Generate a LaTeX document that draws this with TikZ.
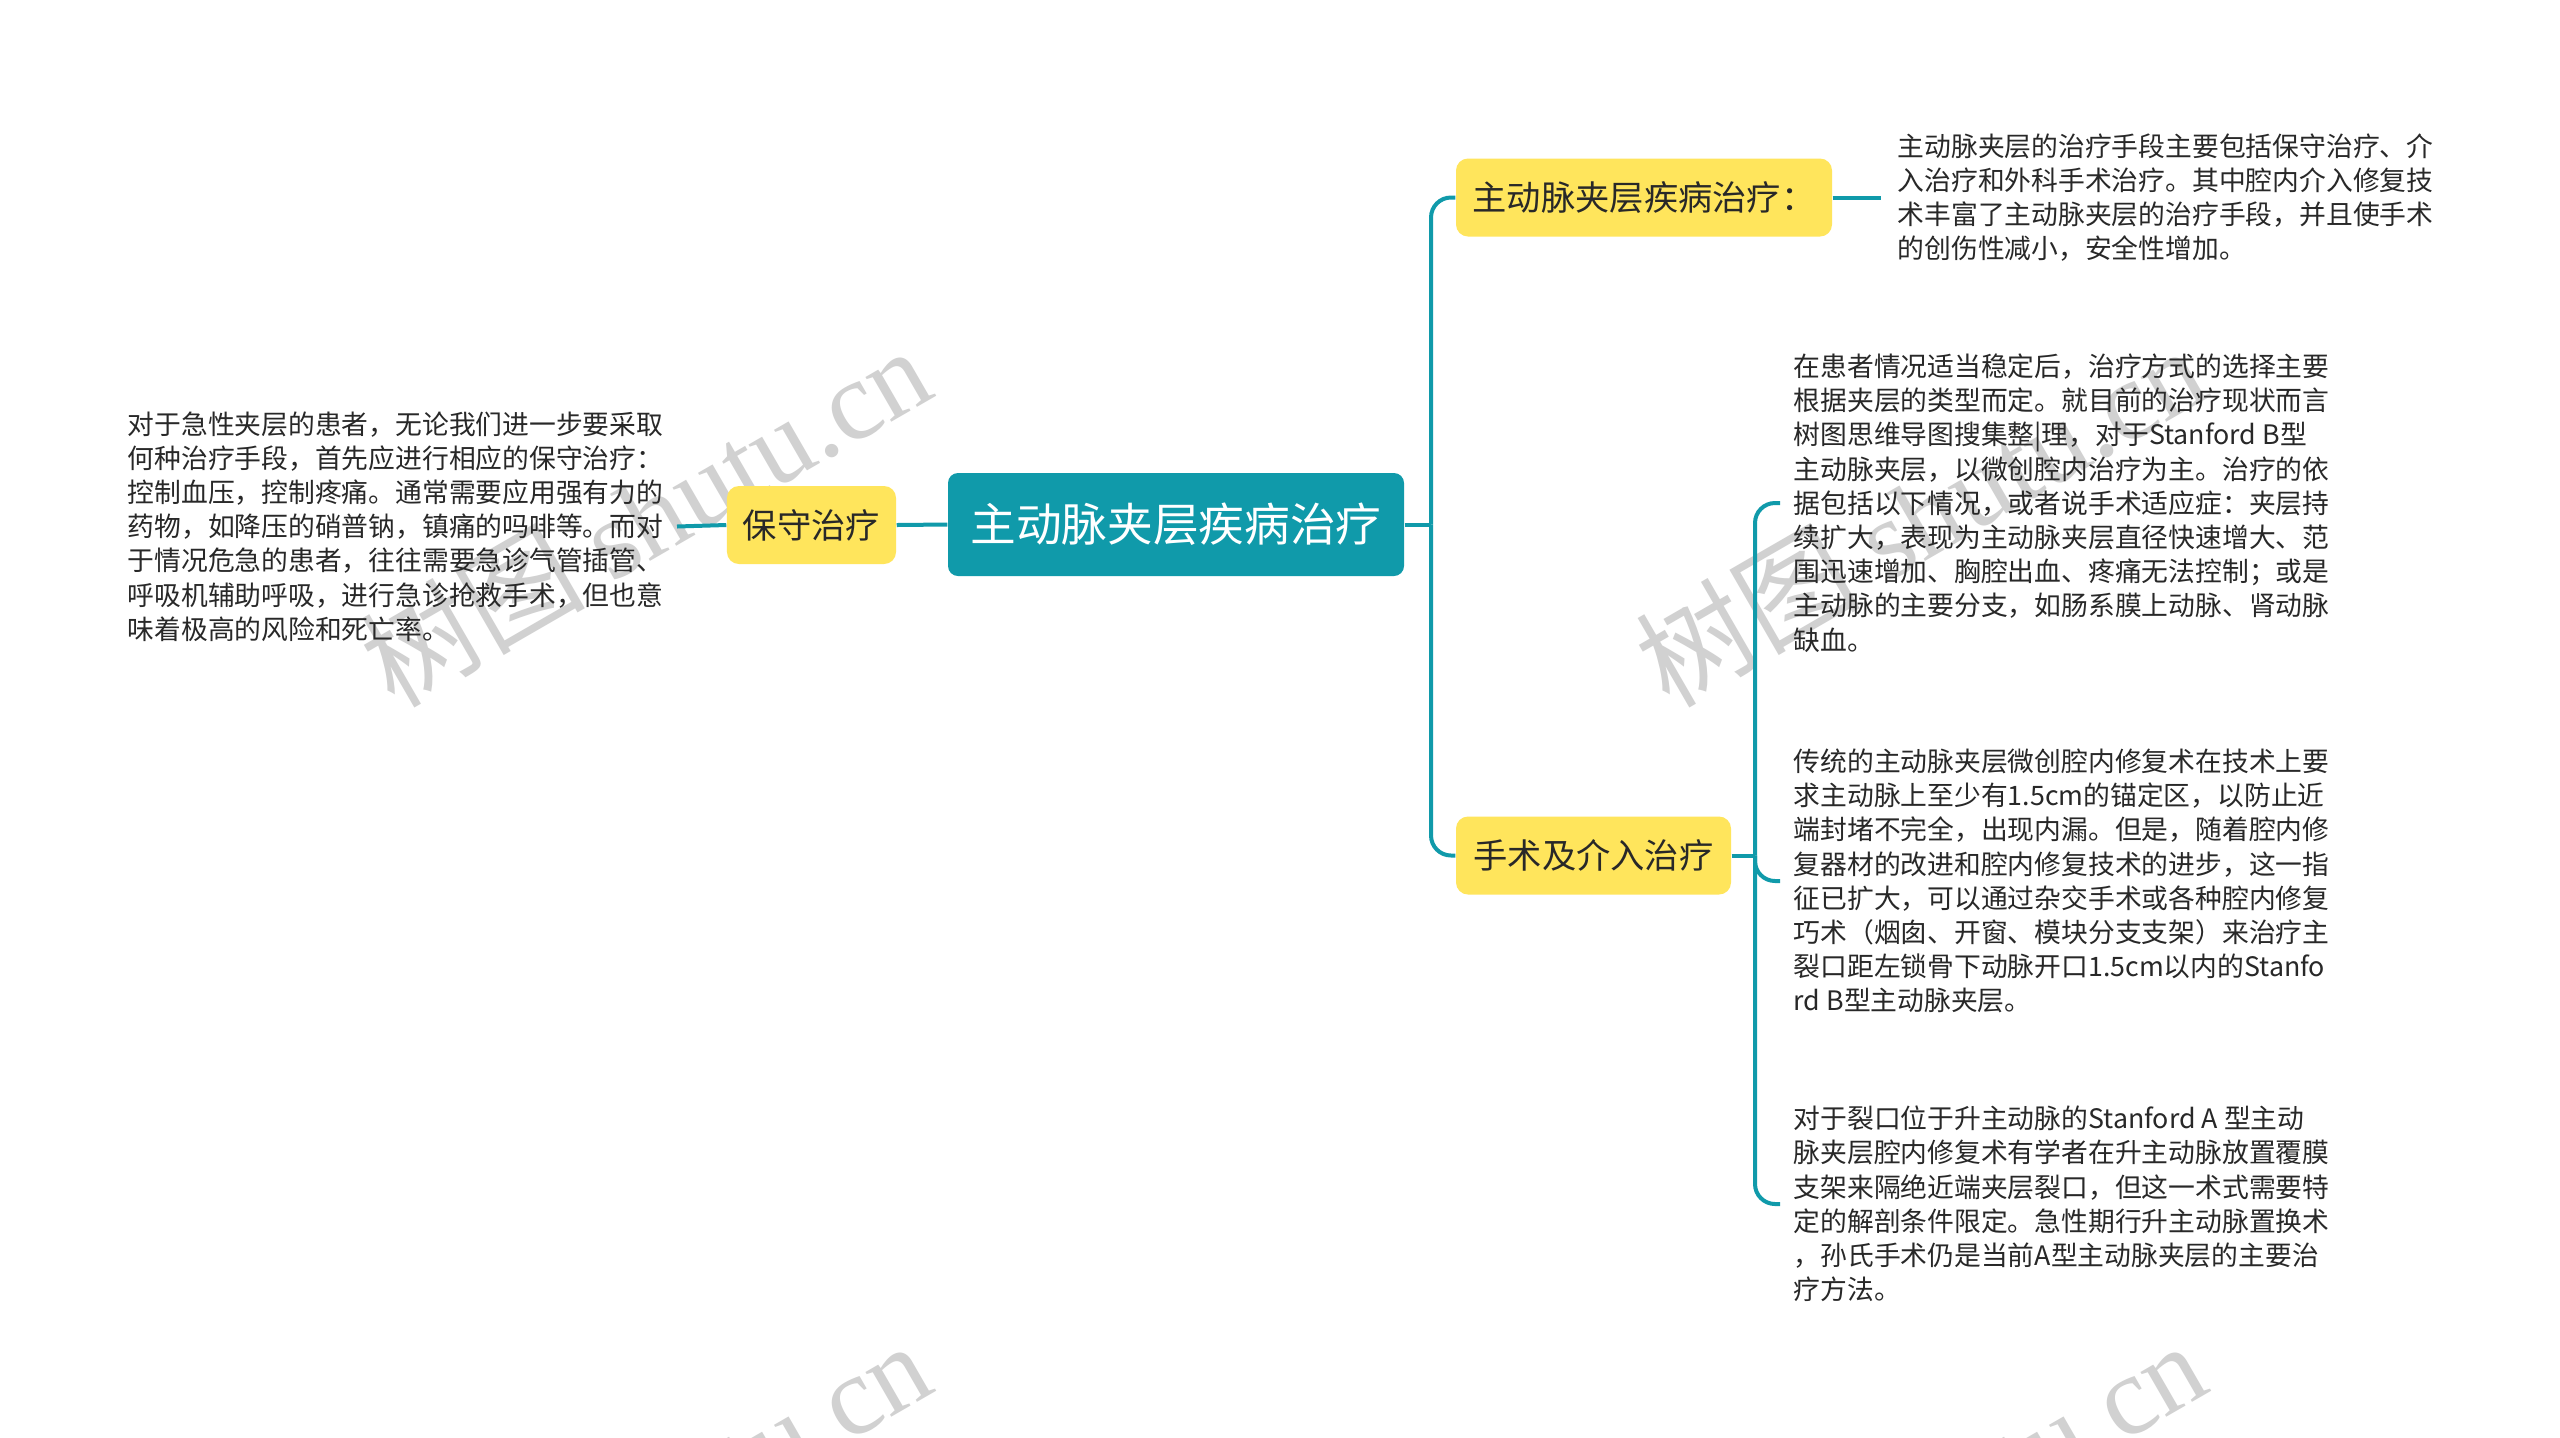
\documentclass[tikz,border=0pt]{standalone}
\usepackage{fontspec}
\setmainfont{Noto Sans CJK SC}
\newfontfamily\wmlatin{Liberation Serif}

\definecolor{mapteal}{RGB}{16,154,170}
\definecolor{mapyellow}{RGB}{255,229,92}
\definecolor{maptext}{RGB}{40,40,40}

\begin{document}
\begin{tikzpicture}[
	link/.style={draw=mapteal, line width=0.04cm, rounded corners=0.2cm},
	rootbox/.style={fill=mapteal, text=white, rounded corners=0.1cm, minimum width=4.56cm, minimum height=1.03cm, font=\fontsize{13pt}{15pt}\selectfont},
	subbox/.style={fill=mapyellow, text=maptext, rounded corners=0.12cm, minimum height=0.78cm, inner xsep=0.16cm, font=\fontsize{9.75pt}{12pt}\selectfont},
	leafnote/.style={align=left, text=maptext, inner sep=0.13cm, font=\fontsize{7.62pt}{9.74pt}\selectfont},
	watermark/.style={text=black!18, rotate=30, font=\fontsize{32pt}{32pt}\selectfont}
]
	
	\useasboundingbox (0,0) rectangle (25.6,-14.37);
	\fill[white] (0,0) rectangle (25.6,-14.37);
	
	\begin{scope}
		\clip (0,0) rectangle (25.6,-14.37);
		\foreach \wx/\wy [count=\i] in {6.45/-5.15, 19.2/-5.15, 6.45/-15.1, 19.2/-15.1}
			\node[watermark] (wm\i) at (\wx,\wy) {树图 {\wmlatin shutu.cn}};
	\end{scope}
	
	\node[rootbox] (root) at (11.76,-5.245) {主动脉夹层疾病治疗};
	
	\node[subbox, minimum width=1.69cm] (cons) at (8.115,-5.25) {保守治疗};
	\node[subbox, minimum width=3.76cm] (cure) at (16.44,-1.975) {主动脉夹层疾病治疗：};
	\node[subbox, minimum width=2.75cm] (surg) at (15.935,-8.555) {手术及介入治疗};
	
	\node[leafnote, anchor=east] (consnote) at (6.77,-5.265) {对于急性夹层的患者，无论我们进一步要采取\\何种治疗手段，首先应进行相应的保守治疗：\\控制血压，控制疼痛。通常需要应用强有力的\\药物，如降压的硝普钠，镇痛的吗啡等。而对\\于情况危急的患者，往往需要急诊气管插管、\\呼吸机辅助呼吸，进行急诊抢救手术，但也意\\味着极高的风险和死亡率。};
	
	\node[leafnote, anchor=west, inner sep=0.16cm] (curenote) at (18.81,-1.975) {主动脉夹层的治疗手段主要包括保守治疗、介\\入治疗和外科手术治疗。其中腔内介入修复技\\术丰富了主动脉夹层的治疗手段，并且使手术\\的创伤性减小，安全性增加。};
	
	\node[leafnote, anchor=west] (typenote) at (17.80,-5.03) {在患者情况适当稳定后，治疗方式的选择主要\\根据夹层的类型而定。就目前的治疗现状而言\\树图思维导图搜集整|理，对于Stanford B型\\主动脉夹层，以微创腔内治疗为主。治疗的依\\据包括以下情况，或者说手术适应症：夹层持\\续扩大，表现为主动脉夹层直径快速增大、范\\围迅速增加、胸腔出血、疼痛无法控制；或是\\主动脉的主要分支，如肠系膜上动脉、肾动脉\\缺血。};
	
	\node[leafnote, anchor=west] (stentnote) at (17.80,-8.81) {传统的主动脉夹层微创腔内修复术在技术上要\\求主动脉上至少有1.5cm的锚定区，以防止近\\端封堵不完全，出现内漏。但是，随着腔内修\\复器材的改进和腔内修复技术的进步，这一指\\征已扩大，可以通过杂交手术或各种腔内修复\\巧术（烟囱、开窗、模块分支支架）来治疗主\\裂口距左锁骨下动脉开口1.5cm以内的Stanfo\\rd B型主动脉夹层。};
	
	\node[leafnote, anchor=west] (typeAnote) at (17.80,-12.04) {对于裂口位于升主动脉的Stanford A 型主动\\脉夹层腔内修复术有学者在升主动脉放置覆膜\\支架来隔绝近端夹层裂口，但这一术式需要特\\定的解剖条件限定。急性期行升主动脉置换术\\，孙氏手术仍是当前A型主动脉夹层的主要治\\疗方法。};
	
	\coordinate (rootjoin) at (14.31,-5.245);
	\coordinate (surgjoin) at (17.55,-8.555);
	
	\draw[link] (root.west) -- (cons.east);
	\draw[link] (cons.west) -- (consnote.east);
	
	\draw[link] (root.east) -- (rootjoin);
	\draw[link] (rootjoin) |- (cure.west);
	\draw[link] (rootjoin) |- (surg.west);
	\draw[link] (cure.east) -- (curenote.west);
	
	\draw[link] (surg.east) -- (surgjoin);
	\draw[link] (surgjoin) |- (typenote.west);
	\draw[link] (surgjoin) |- (stentnote.west);
	\draw[link] (surgjoin) |- (typeAnote.west);
	
\end{tikzpicture}
\end{document}
